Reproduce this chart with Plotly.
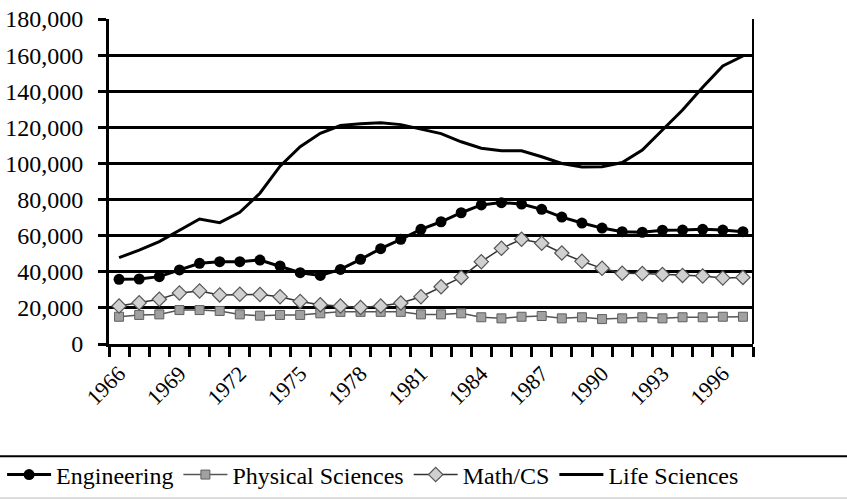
import plotly.graph_objects as go

years = list(range(1966, 1998))

engineering = [35800, 36000, 37300, 41000, 44700, 45600, 45600, 46500, 43200, 39500,
               38000, 41300, 46900, 52800, 58000, 63500, 67700, 72700, 77000, 78300,
               77500, 74600, 70300, 67000, 64200, 62200, 61900, 63000, 63100, 63500,
               63100, 62200]

physical_sciences = [15100, 16100, 16400, 18800, 18800, 18300, 16400, 15700, 16100, 16100,
                     17000, 17800, 17800, 17800, 17800, 16400, 16400, 17000, 14800, 14200,
                     15100, 15500, 14200, 14800, 13800, 14200, 14800, 14200, 14800, 14800,
                     15100, 15100]

math_cs = [21000, 22800, 24800, 28300, 29400, 27200, 27500, 27400, 26200, 23600,
           21700, 21000, 20200, 21000, 22700, 26200, 31700, 36900, 45600, 53000,
           58000, 55800, 50400, 45800, 41900, 39200, 39000, 38500, 38000, 37700,
           36600, 36900]

life_sciences = [47800, 52000, 56700, 63100, 69200, 67200, 72900, 83500, 98500, 109300,
                 116700, 121000, 122000, 122500, 121500, 119000, 116500, 112000, 108400, 107000,
                 107000, 103700, 100000, 98000, 98200, 100500, 107400, 118500, 129600, 142200,
                 154000, 159500]

label_years = list(range(1966, 1998, 3))
y_ticks = list(range(0, 180001, 20000))

FONT = "Liberation Serif"

fig = go.Figure()

fig.add_trace(go.Scatter(
    x=years, y=engineering, name="Engineering", mode="lines+markers",
    line=dict(color="black", width=3),
    marker=dict(symbol="circle", size=11, color="black"),
))
fig.add_trace(go.Scatter(
    x=years, y=physical_sciences, name="Physical Sciences", mode="lines+markers",
    line=dict(color="#555555", width=1.5),
    marker=dict(symbol="square", size=9, color="#a0a0a0",
                line=dict(color="#606060", width=1)),
))
fig.add_trace(go.Scatter(
    x=years, y=math_cs, name="Math/CS", mode="lines+markers",
    line=dict(color="#333333", width=1.5),
    marker=dict(symbol="diamond", size=11, color="#d0d0d0",
                line=dict(color="#555555", width=1.2)),
))
fig.add_trace(go.Scatter(
    x=years, y=life_sciences, name="Life Sciences", mode="lines",
    line=dict(color="black", width=3),
))

fig.update_layout(
    width=847, height=500,
    margin=dict(l=109, r=94, t=19, b=156, autoexpand=False),
    paper_bgcolor="white", plot_bgcolor="white",
    font=dict(family=FONT, size=22, color="black"),
    showlegend=True,
    legend=dict(
        orientation="h", x=-0.166, xanchor="left",
        y=-0.403, yanchor="middle",
        font=dict(family=FONT, size=24, color="black"),
        bgcolor="rgba(0,0,0,0)", itemwidth=44, tracegroupgap=0,
    ),
    xaxis=dict(
        range=[1965.5, 1997.5], automargin=False,
        tickmode="array", tickvals=label_years, ticktext=[str(y) for y in label_years],
        tickangle=-45, ticks="outside", ticklen=1, tickcolor="rgba(0,0,0,0)",
        ticklabelstandoff=4,
        tickfont=dict(family=FONT, size=22),
        minor=dict(tick0=1965.5, dtick=1, ticks="outside", ticklen=10,
                   tickwidth=2.5, tickcolor="black", showgrid=False),
        showgrid=False, zeroline=False,
        showline=True, linecolor="black", linewidth=3,
        mirror=False,
    ),
    yaxis=dict(
        range=[0, 180000], tickvals=y_ticks, tickformat=",", automargin=False,
        ticks="outside", ticklen=8, tickwidth=2.5, tickcolor="black",
        ticklabelstandoff=10,
        tickfont=dict(family=FONT, size=24),
        showgrid=True, gridcolor="black", gridwidth=2.5,
        zeroline=False, showline=True, linecolor="black", linewidth=3,
    ),
    shapes=[
        dict(type="line", xref="paper", yref="paper", x0=1, x1=1, y0=0, y1=1,
             line=dict(color="black", width=2)),
        dict(type="line", xref="paper", yref="paper", x0=-0.17, x1=1.146,
             y0=-0.345, y1=-0.345, line=dict(color="black", width=2)),
        dict(type="line", xref="paper", yref="paper", x0=-0.17, x1=1.146,
             y0=-0.474, y1=-0.474, line=dict(color="#bbbbbb", width=1)),
    ],
)

fig.write_html(
    "out.html",
    config={"displayModeBar": False},
    post_script="document.body.style.margin='0';document.body.style.overflow='hidden';",
)
